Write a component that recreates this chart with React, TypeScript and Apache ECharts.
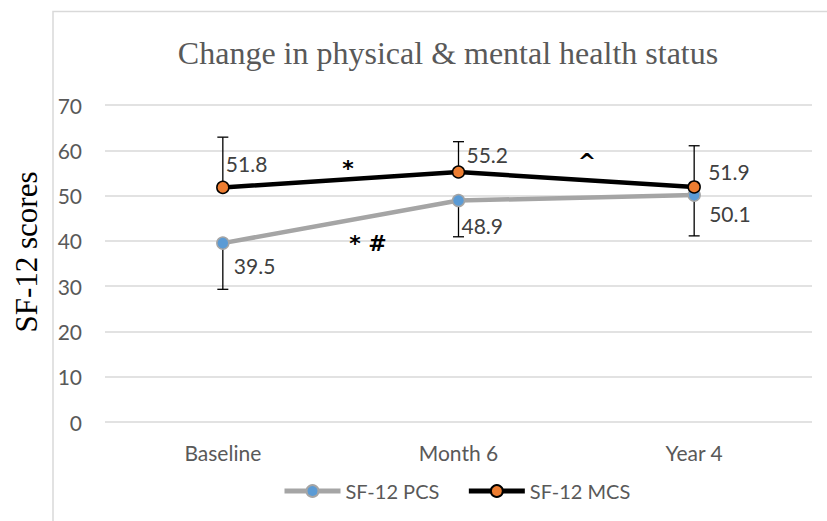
import React, { useEffect, useRef } from "react";
import * as echarts from "echarts";

// Time points and SF-12 summary scores
const categories = ["Baseline", "Month 6", "Year 4"];
const pcsValues = [39.5, 48.9, 50.1];
const mcsValues = [51.8, 55.2, 51.9];
// One-sided error bars: PCS drawn downward, MCS drawn upward
const pcsErrMinus = [10.2, 8.0, 9.0];
const mcsErrPlus = [11.1, 6.7, 9.1];
// Value axis range
const yMin = 0;
const yMax = 70;
const yStep = 10;

// Label offsets from each marker centre (layout only)
const pcsLabelOffsets = [[11, 22], [3, 25], [15, 18]];
const mcsLabelOffsets = [[3, -24], [8, -18], [14, -15]];

// Significance markers
const annotations = [
  { text: "*", x: 348, y: 168 },
  { text: "* #", x: 368, y: 243 },
  { text: "^", x: 587, y: 161 },
];

const SANS = "Lato, 'Open Sans', sans-serif";
const SERIF = "'Liberation Serif', 'DejaVu Serif', serif";

function errorBars(name: string, values: number[], errs: number[], sign: number) {
  return {
    type: "custom",
    name,
    z: 1,
    silent: true,
    data: values.map((v, i) => [i, v, v + sign * errs[i]]),
    encode: { x: 0, y: [1, 2] },
    renderItem: (_params: any, api: any) => {
      const idx = api.value(0);
      const a = api.coord([idx, api.value(1)]);
      const b = api.coord([idx, api.value(2)]);
      const half = 5.5;
      const style = { stroke: "#000000", lineWidth: 1.3 };
      return {
        type: "group",
        children: [
          { type: "line", shape: { x1: a[0], y1: a[1], x2: b[0], y2: b[1] }, style },
          { type: "line", shape: { x1: b[0] - half, y1: b[1], x2: b[0] + half, y2: b[1] }, style },
        ],
      };
    },
  };
}

function labelled(values: number[], offsets: number[][]) {
  return values.map((v, i) => ({
    value: v,
    label: { offset: offsets[i] },
  }));
}

export default function App() {
  const ref = useRef<HTMLDivElement>(null);

  useEffect(() => {
    if (!ref.current) return;
    const chart = echarts.init(ref.current, undefined, { renderer: "svg" });
    const labelStyle = {
      show: true,
      position: "inside",
      align: "left",
      verticalAlign: "middle",
      color: "#404040",
      fontFamily: SANS,
      fontSize: 21,
      formatter: (p: any) => p.value.toFixed(1),
    };
    chart.setOption({
      animation: false,
      backgroundColor: "#ffffff",
      title: {
        text: "Change in physical & mental health status",
        left: 443,
        top: 32,
        textAlign: "center",
        textStyle: {
          fontFamily: SERIF,
          fontSize: 32,
          fontWeight: "normal",
          color: "#595959",
        },
      },
      legend: {
        data: [
          { name: "SF-12 PCS", lineStyle: { color: "#A5A5A5", width: 5 } },
          { name: "SF-12 MCS", lineStyle: { color: "#000000", width: 5 } },
        ],
        left: 277,
        top: 476,
        itemWidth: 56,
        itemHeight: 15,
        itemGap: 27,
        lineStyle: { width: 5 },
        textStyle: { fontFamily: SANS, fontSize: 20, color: "#595959" },
      },
      grid: { left: 105, right: 15, top: 105, bottom: 99, containLabel: false },
      xAxis: {
        type: "category",
        data: categories,
        boundaryGap: true,
        axisLine: { show: false },
        axisTick: { show: false },
        axisLabel: { margin: 20, fontFamily: SANS, fontSize: 21, color: "#595959" },
      },
      yAxis: {
        type: "value",
        min: yMin,
        max: yMax,
        interval: yStep,
        axisLine: { show: false },
        axisTick: { show: false },
        axisLabel: { margin: 23, fontFamily: SANS, fontSize: 21, color: "#595959" },
        splitLine: { lineStyle: { color: "#D9D9D9", width: 1.5 } },
      },
      graphic: [
        {
          type: "rect",
          shape: { x: 53, y: 11.5, width: 900, height: 700 },
          style: { fill: "none", stroke: "#D9D9D9", lineWidth: 1.5 },
          silent: true,
        },
        {
          type: "text",
          x: 26,
          y: 252,
          rotation: Math.PI / 2,
          style: {
            text: "SF-12 scores",
            fontFamily: SERIF,
            fontSize: 31,
            fill: "#000000",
            align: "center",
            verticalAlign: "middle",
          },
        },
        ...annotations.map((a) => ({
          type: "text",
          x: a.x,
          y: a.y,
          z: 10,
          style: {
            text: a.text,
            fontFamily: "'DejaVu Sans', sans-serif",
            fontSize: 22,
            fontWeight: "bold",
            fill: "#000000",
            align: "center",
            verticalAlign: "middle",
          },
        })),
      ],
      series: [
        errorBars("PCS error", pcsValues, pcsErrMinus, -1),
        errorBars("MCS error", mcsValues, mcsErrPlus, 1),
        {
          name: "SF-12 PCS",
          type: "line",
          z: 3,
          data: labelled(pcsValues, pcsLabelOffsets),
          symbol: "circle",
          symbolSize: 12,
          lineStyle: { color: "#A5A5A5", width: 4.5 },
          itemStyle: { color: "#5B9BD5", borderColor: "#A5A5A5", borderWidth: 1.5 },
          label: labelStyle,
        },
        {
          name: "SF-12 MCS",
          type: "line",
          z: 4,
          data: labelled(mcsValues, mcsLabelOffsets),
          symbol: "circle",
          symbolSize: 12,
          lineStyle: { color: "#000000", width: 4.5 },
          itemStyle: { color: "#ED7D31", borderColor: "#000000", borderWidth: 1.5 },
          label: labelStyle,
        },
      ],
    });
    return () => chart.dispose();
  }, []);

  return (
    <div
      ref={ref}
      style={{ position: "fixed", left: 0, top: 0, width: 827, height: 521 }}
    />
  );
}
